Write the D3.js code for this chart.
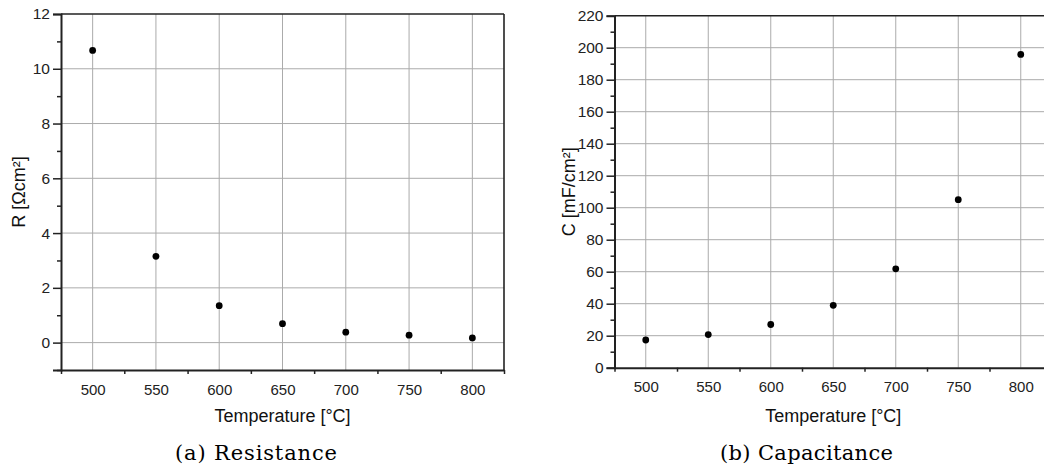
<!DOCTYPE html>
<html>
<head>
<meta charset="utf-8">
<script src="https://cdn.jsdelivr.net/npm/d3@7"></script>
<style>
  html, body { margin: 0; padding: 0; background: #fff; }
  svg { display: block; }
  .tick text { font-family: "Liberation Sans", Arial, sans-serif; fill: #222; }
</style>
</head>
<body>
<svg id="chart" width="1044" height="470"></svg>
<script>
// Temperature sweep shared by both panels
const temperatures = [500, 550, 600, 650, 700, 750, 800];
// Area-specific resistance [Ω cm²]
const resistance = [10.67, 3.15, 1.35, 0.69, 0.38, 0.27, 0.17];
// Area-specific capacitance [mF/cm²]
const capacitance = [17.3, 20.7, 27.0, 39.0, 61.8, 105.0, 195.8];

const xTicks = [500, 550, 600, 650, 700, 750, 800];
const xMinorTicks = [475, 525, 575, 625, 675, 725, 775, 825];
const rTicks = [0, 2, 4, 6, 8, 10, 12];
const rMinorTicks = [-1, 1, 3, 5, 7, 9, 11];
const cTicks = [0, 20, 40, 60, 80, 100, 120, 140, 160, 180, 200, 220];
const cMinorTicks = [10, 30, 50, 70, 90, 110, 130, 150, 170, 190, 210];

const svg = d3.select("#chart");

function panel(cfg) {
  const x = d3.scaleLinear().domain([475, 825]).range([cfg.left, cfg.right]);
  const y = d3.scaleLinear().domain(cfg.yDomain).range([cfg.bottom, cfg.top]);
  const g = svg.append("g");

  // grid
  g.append("g").selectAll("line").data(xTicks).join("line")
    .attr("x1", d => x(d)).attr("x2", d => x(d))
    .attr("y1", cfg.top).attr("y2", cfg.bottom)
    .attr("stroke", "#ababab").attr("stroke-width", 1);
  g.append("g").selectAll("line").data(cfg.yGrid).join("line")
    .attr("x1", cfg.left).attr("x2", cfg.right)
    .attr("y1", d => y(d)).attr("y2", d => y(d))
    .attr("stroke", "#ababab").attr("stroke-width", 1);

  // frame: top and right
  g.append("line").attr("x1", cfg.left).attr("x2", cfg.right)
    .attr("y1", cfg.top).attr("y2", cfg.top)
    .attr("stroke", "#222").attr("stroke-width", 1.6);
  g.append("line").attr("x1", cfg.right).attr("x2", cfg.right)
    .attr("y1", cfg.top).attr("y2", cfg.bottom)
    .attr("stroke", "#222").attr("stroke-width", 1.6);

  // x axis: labels at major values, small outward ticks in between
  const xa = g.append("g").attr("transform", `translate(0,${cfg.bottom})`)
    .call(d3.axisBottom(x).tickValues(xTicks).tickSize(0).tickPadding(14)
      .tickFormat(d3.format("d")));
  xa.select(".domain").attr("stroke", "#222").attr("stroke-width", 2);
  xa.selectAll("text").attr("font-size", 15);
  const xm = g.append("g").attr("transform", `translate(0,${cfg.bottom})`)
    .call(d3.axisBottom(x).tickValues(xMinorTicks).tickSize(4).tickFormat(""));
  xm.select(".domain").remove();
  xm.selectAll("line").attr("stroke", "#222").attr("stroke-width", 1.5);

  // y axis
  const ya = g.append("g").attr("transform", `translate(${cfg.left},0)`)
    .call(d3.axisLeft(y).tickValues(cfg.yTicks).tickSize(8).tickPadding(3)
      .tickFormat(d3.format("d")));
  ya.select(".domain").attr("stroke", "#222").attr("stroke-width", 2);
  ya.selectAll("line").attr("stroke", "#222").attr("stroke-width", 1.5);
  ya.selectAll("text").attr("font-size", 15.5);
  const ym = g.append("g").attr("transform", `translate(${cfg.left},0)`)
    .call(d3.axisLeft(y).tickValues(cfg.yMinor).tickSize(4).tickFormat(""));
  ym.select(".domain").remove();
  ym.selectAll("line").attr("stroke", "#222").attr("stroke-width", 1.5);

  // points
  g.append("g").selectAll("circle").data(temperatures).join("circle")
    .attr("cx", d => x(d))
    .attr("cy", (d, i) => y(cfg.values[i]))
    .attr("r", 3.4).attr("fill", "#000");

  // axis titles
  g.append("text")
    .attr("x", (cfg.left + cfg.right) / 2).attr("y", 421.5)
    .attr("text-anchor", "middle")
    .attr("font-family", "'Liberation Sans', Arial, sans-serif")
    .attr("font-size", 18).attr("fill", "#111")
    .text("Temperature [°C]");
  g.append("text")
    .attr("transform", `translate(${cfg.titleX},${(cfg.top + cfg.bottom) / 2}) rotate(-90)`)
    .attr("text-anchor", "middle")
    .attr("font-family", "'Liberation Sans', Arial, sans-serif")
    .attr("font-size", 18).attr("fill", "#111")
    .text(cfg.yTitle);

  // caption
  g.append("text")
    .attr("x", cfg.capX).attr("y", 460)
    .attr("font-family", "'DejaVu Serif', serif")
    .attr("font-size", 21).attr("fill", "#000")
    .attr("textLength", cfg.capLen).attr("lengthAdjust", "spacing")
    .text(cfg.caption);
}

panel({
  left: 61, right: 504, top: 14, bottom: 370,
  yDomain: [-1, 12], yTicks: rTicks, yMinor: rMinorTicks,
  yGrid: [0, 2, 4, 6, 8, 10],
  values: resistance, yTitle: "R [Ωcm²]", titleX: 25,
  caption: "(a) Resistance", capX: 175, capLen: 162
});

panel({
  left: 614.5, right: 1052, top: 15.7, bottom: 367.7,
  yDomain: [0, 220], yTicks: cTicks, yMinor: cMinorTicks,
  yGrid: [20, 40, 60, 80, 100, 120, 140, 160, 180, 200],
  values: capacitance, yTitle: "C [mF/cm²]", titleX: 575,
  caption: "(b) Capacitance", capX: 720, capLen: 173
});
</script>
</body>
</html>
